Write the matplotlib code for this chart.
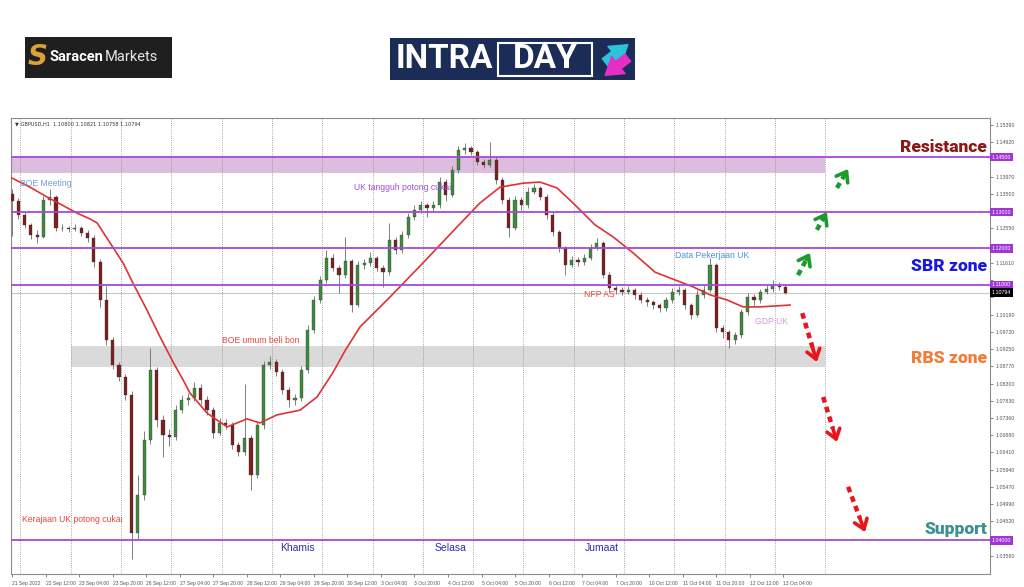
import matplotlib
matplotlib.use('Agg')
import matplotlib.pyplot as plt
import matplotlib.patches as mpatches
import matplotlib.transforms as mtransforms
import numpy as np

# --- data: GBPUSD, 3-hour candles (x = hours from 21 Sep 20:00)
first_open = 1.1350
closes = [1.1330, 1.1292, 1.1264, 1.1237, 1.1232, 1.1333, 1.1341, 1.1256, 1.1256, 1.1253,
          1.1256, 1.1242, 1.1229, 1.1163, 1.1059, 1.0949, 1.0881, 1.0848, 1.0799, 1.0420,
          1.0525, 1.0675, 1.0867, 1.0730, 1.0689, 1.0684, 1.0757, 1.0785, 1.0790, 1.0818,
          1.0785, 1.0757, 1.0695, 1.0722, 1.0716, 1.0662, 1.0642, 1.0681, 1.0579, 1.0716,
          1.0881, 1.0889, 1.0862, 1.0812, 1.0785, 1.0790, 1.0867, 1.0977, 1.1059, 1.1114,
          1.1174, 1.1147, 1.1127, 1.1165, 1.1045, 1.1155, 1.1160, 1.1174, 1.1147, 1.1136,
          1.1223, 1.1196, 1.1237, 1.1286, 1.1305, 1.1319, 1.1311, 1.1319, 1.1382, 1.1347,
          1.1415, 1.1470, 1.1475, 1.1464, 1.1437, 1.1429, 1.1442, 1.1388, 1.1333, 1.1256,
          1.1333, 1.1319, 1.1355, 1.1366, 1.1341, 1.1292, 1.1245, 1.1201, 1.1155, 1.1169,
          1.1163, 1.1174, 1.1201, 1.1215, 1.1127, 1.1092, 1.1086, 1.1081, 1.1086, 1.1073,
          1.1059, 1.1053, 1.1045, 1.1037, 1.1059, 1.1081, 1.1086, 1.1045, 1.1018, 1.1073,
          1.1086, 1.1155, 1.0982, 1.0971, 1.0949, 1.0963, 1.1026, 1.1067, 1.1059, 1.1081,
          1.1089, 1.1097, 1.1095, 1.1079]
highs = [1.1362, 1.1338, 1.1300, 1.1270, 1.1250, 1.1345, 1.1362, 1.1346, 1.1266, 1.1262,
         1.1268, 1.1262, 1.1250, 1.1236, 1.1170, 1.1098, 1.0958, 1.0890, 1.0856, 1.0810,
         1.0580, 1.0700, 1.0927, 1.0875, 1.0745, 1.0705, 1.0770, 1.0798, 1.0805, 1.0835,
         1.0828, 1.0795, 1.0765, 1.0735, 1.0732, 1.0725, 1.0670, 1.0830, 1.0690, 1.0728,
         1.0892, 1.0905, 1.0898, 1.0870, 1.0820, 1.0800, 1.0878, 1.0990, 1.1070, 1.1125,
         1.1196, 1.1185, 1.1155, 1.1232, 1.1172, 1.1165, 1.1172, 1.1190, 1.1180, 1.1155,
         1.1270, 1.1232, 1.1248, 1.1296, 1.1318, 1.1330, 1.1325, 1.1330, 1.1395, 1.1390,
         1.1425, 1.1482, 1.1489, 1.1482, 1.1470, 1.1445, 1.1492, 1.1450, 1.1395, 1.1340,
         1.1345, 1.1342, 1.1368, 1.1378, 1.1372, 1.1348, 1.1300, 1.1252, 1.1208, 1.1180,
         1.1178, 1.1185, 1.1212, 1.1230, 1.1220, 1.1135, 1.1100, 1.1095, 1.1098, 1.1092,
         1.1080, 1.1068, 1.1060, 1.1052, 1.1068, 1.1092, 1.1098, 1.1092, 1.1052, 1.1085,
         1.1100, 1.1174, 1.1160, 1.0990, 1.0978, 1.0972, 1.1035, 1.1078, 1.1075, 1.1090,
         1.1100, 1.1114, 1.1108, 1.1100]
lows = [1.1235, 1.1280, 1.1255, 1.1225, 1.1215, 1.1228, 1.1318, 1.1248, 1.1247, 1.1245,
        1.1248, 1.1233, 1.1218, 1.1150, 1.1040, 1.0935, 1.0870, 1.0838, 1.0785, 1.0350,
        1.0405, 1.0510, 1.0665, 1.0712, 1.0629, 1.0660, 1.0675, 1.0748, 1.0772, 1.0782,
        1.0775, 1.0745, 1.0680, 1.0688, 1.0705, 1.0650, 1.0630, 1.0635, 1.0538, 1.0570,
        1.0705, 1.0870, 1.0850, 1.0800, 1.0765, 1.0770, 1.0782, 1.0860, 1.0968, 1.1050,
        1.1105, 1.1138, 1.1078, 1.1118, 1.1026, 1.1040, 1.1145, 1.1152, 1.1138, 1.1095,
        1.1128, 1.1185, 1.1188, 1.1230, 1.1278, 1.1298, 1.1285, 1.1302, 1.1312, 1.1330,
        1.1340, 1.1408, 1.1460, 1.1455, 1.1428, 1.1420, 1.1422, 1.1378, 1.1322, 1.1232,
        1.1250, 1.1305, 1.1312, 1.1348, 1.1332, 1.1282, 1.1235, 1.1190, 1.1127, 1.1148,
        1.1152, 1.1155, 1.1168, 1.1195, 1.1118, 1.1082, 1.1075, 1.1072, 1.1074, 1.1062,
        1.1050, 1.1042, 1.1035, 1.1026, 1.1030, 1.1052, 1.1072, 1.1035, 1.1008, 1.1012,
        1.1065, 1.1080, 1.0972, 1.0955, 1.0927, 1.0938, 1.0955, 1.1018, 1.1045, 1.1052,
        1.1075, 1.1082, 1.1085, 1.1076]
bar_hours = 3

# moving average (red line), read at points
ma_hours = [0, 8.6, 16.7, 22.9, 31, 37.2, 40.6, 46.8, 53, 57.7, 64.4, 70.6, 76.8, 81.6, 84.9,
            93, 102.6, 112.1, 118.3, 126.4, 137.4, 145.5, 153.1, 158.9, 166, 180.3, 196,
            212.3, 223.3, 232.8, 243.8, 251.9, 260, 267.6, 278.1, 286.7, 296.3, 306.8,
            324.9, 333, 341.1, 348.8, 356.9, 371.2]
ma_values = [1.1393, 1.1368, 1.1341, 1.1322, 1.1297, 1.1281, 1.1270, 1.1215, 1.1160, 1.1105,
             1.1031, 1.0958, 1.0889, 1.0840, 1.0804, 1.0749, 1.0711, 1.0733, 1.0722, 1.0744,
             1.0757, 1.0793, 1.0860, 1.0920, 1.0985, 1.1067, 1.1160, 1.1259, 1.1325, 1.1368,
             1.1379, 1.1382, 1.1366, 1.1325, 1.1265, 1.1232, 1.1188, 1.1135, 1.1095, 1.1073,
             1.1059, 1.1040, 1.1040, 1.1045]

time_labels = ['21 Sep 2022', '22 Sep 12:00', '23 Sep 04:00', '23 Sep 20:00', '26 Sep 12:00',
               '27 Sep 04:00', '27 Sep 20:00', '28 Sep 12:00', '29 Sep 04:00', '29 Sep 20:00',
               '30 Sep 12:00', '3 Oct 04:00', '3 Oct 20:00', '4 Oct 12:00', '5 Oct 04:00',
               '5 Oct 20:00', '6 Oct 12:00', '7 Oct 04:00', '7 Oct 20:00', '10 Oct 12:00',
               '11 Oct 04:00', '11 Oct 20:00', '12 Oct 12:00', '13 Oct 04:00']
price_ticks = [1.15390, 1.14920, 1.14450, 1.13970, 1.13500, 1.13030, 1.12550, 1.12080,
               1.11610, 1.11140, 1.10660, 1.10190, 1.09720, 1.09250, 1.08770, 1.08300,
               1.07830, 1.07360, 1.06880, 1.06410, 1.05940, 1.05470, 1.04990, 1.04520,
               1.04050, 1.03580]
levels = [1.14500, 1.13000, 1.12000, 1.11000, 1.04000]
current_price = 1.10794

events = ['BOE Meeting', 'UK tangguh potong cukai', 'Data Pekerjaan UK', 'NFP AS', 'GDP UK',
          'BOE umum beli bon', 'Kerajaan UK potong cukai']
event_hours = [3.8, 163.2, 316.3, 272.9, 354.5, 100.2, 4.8]
event_prices = [1.1379, 1.1366, 1.1182, 1.1073, 1.1001, 1.0947, 1.0456]
event_colors = ['#6f9fd4', '#a04fd6', '#4a93db', '#e8463c', '#d596e3', '#e8463c', '#e8463c']

days = ['Khamis', 'Selasa', 'Jumaat']
day_hours = [127.9, 201.8, 273.4]
day_price = 1.0380

zones = ['Resistance', 'SBR zone', 'RBS zone', 'Support']
zone_prices = [1.1478, 1.1152, 1.0900, 1.0432]
zone_colors = ['#8e1717', '#1919e0', '#f27c36', '#3b9191']

up_arrows = [((375, 1.1127), (380.7, 1.1188)), ((384, 1.1251), (388.8, 1.1300)),
             ((393.6, 1.1366), (398.9, 1.1418))]
down_arrows = [((377, 1.1023), (384, 1.0889)), ((387, 1.0793), (393.6, 1.0670)),
               ((398.9, 1.0547), (407, 1.0423))]

W, H = 1024, 587
fig = plt.figure(figsize=(W / 100, H / 100), dpi=100)
fig.patch.set_facecolor('white')

def fx(x):
    return x / W

def fy(y):
    return 1 - y / H

ax = fig.add_axes([fx(11), fy(574), (990 - 11) / W, (574 - 118) / H])
ax.set_xlim(-0.5, 466.6)
ax.set_ylim(1.0308, 1.15576)

# zones
ax.fill_between([-0.5, 388], 1.1408, 1.1450, color='#dcbde0', lw=0, zorder=0.5)
ax.fill_between([28, 388], 1.0875, 1.0934, color='#dadada', lw=0, zorder=0.5)

# day separators
for h in range(4, 389, 24):
    ax.axvline(h, color='#8a8a8a', lw=0.6, ls=(0, (1, 1.6)), zorder=1)

ax.axhline(current_price, color='#c8c8c8', lw=0.8, zorder=1)

# candles
hours = np.arange(len(closes)) * bar_hours
opens = [first_open] + closes[:-1]
for h, o, c, hi, lo in zip(hours, opens, closes, highs, lows):
    col = '#3d8b3d' if c >= o else '#7d1f1f'
    ax.vlines(h, lo, hi, color='#6a6a6a', lw=0.6, zorder=3)
    ax.bar(h, max(abs(c - o), 0.00015), bottom=min(o, c), width=1.5,
           color=col, edgecolor='#3a3a3a', linewidth=0.25, zorder=3.5)

ax.plot(ma_hours, ma_values, color='#e03232', lw=1.2, zorder=4)

for lv in levels:
    ax.axhline(lv, color='#a64bd2', lw=1.3, zorder=4.5)

# event notes
for t, h, p, c in zip(events, event_hours, event_prices, event_colors):
    ax.text(h, p, t, color=c, fontsize=6.2, family='Liberation Sans', va='center', ha='left', zorder=6)
for t, h in zip(days, day_hours):
    ax.text(h, day_price, t, color='#2c2cb4', fontsize=7.5, family='Liberation Sans',
            va='center', ha='left', zorder=6)

# scenario arrows
for arrows, col in [(up_arrows, '#1c9a2c'), (down_arrows, '#e8151c')]:
    for (x0, y0), (x1, y1) in arrows:
        xm, ym = x0 + 0.7 * (x1 - x0), y0 + 0.7 * (y1 - y0)
        ax.plot([x0, xm], [y0, ym], color=col, lw=3.2, ls=(0, (1.3, 1.0)), solid_capstyle='butt', zorder=6)
        ax.annotate('', xy=(x1, y1), xytext=(xm, ym),
                    arrowprops=dict(arrowstyle='->,head_length=0.55,head_width=0.4', lw=2.6,
                                    color=col, shrinkA=0, shrinkB=0, mutation_scale=12), zorder=6)

blend = mtransforms.blended_transform_factory(ax.transAxes, ax.transData)
for z, p, c in zip(zones, zone_prices, zone_colors):
    ax.text(0.997, p, z, transform=blend, color=c, fontsize=12.5, fontweight='heavy',
            family='Roboto', ha='right', va='center', zorder=6)

# axes look
for s in ax.spines.values():
    s.set_color('#8c8c8c')
    s.set_linewidth(0.8)
ax.yaxis.tick_right()
ax.set_yticks(price_ticks)
# labels hidden behind the level / price boxes are left blank
covered = levels + [current_price]
ax.set_yticklabels(['' if min(abs(v - c) for c in covered) < 0.0015 else f'{v:.5f}' for v in price_ticks])
ax.tick_params(axis='y', labelsize=3.8, length=2, width=0.5, pad=2, colors='#555555')
ax.set_xticks(np.arange(len(time_labels)) * 16)
ax.set_xticklabels(time_labels, ha='left')
ax.tick_params(axis='x', labelsize=3.6, length=2, width=0.5, pad=3, colors='#555555')
for lab in ax.get_xticklabels() + ax.get_yticklabels():
    lab.set_family('Liberation Sans')

for lv in levels:
    ax.text(1.002, lv, f'{lv:.5f}', transform=blend, fontsize=3.8, color='white', family='Liberation Sans',
            va='center', ha='left', zorder=7, clip_on=False,
            bbox=dict(boxstyle='square,pad=0.3', fc='#a235d8', ec='none'))
ax.text(1.002, current_price, f'{current_price:.5f}', transform=blend, fontsize=3.8, color='white',
        family='Liberation Sans', va='center', ha='left', zorder=7, clip_on=False,
        bbox=dict(boxstyle='square,pad=0.3', fc='black', ec='none'))

ax.text(0.004, 0.993, '\u25bc GBPUSD,H1  1.10800 1.10821 1.10758 1.10794', transform=ax.transAxes,
        fontsize=3.6, color='#333333', va='top', ha='left', zorder=7)

# logos
renderer = fig.canvas.get_renderer()
fig.add_artist(mpatches.Rectangle((fx(25), fy(78)), 147 / W, 41 / H, transform=fig.transFigure,
                                  fc='#1f1f1f', ec='none'))
fig.text(fx(38), fy(57), 'S', color='#d9a236', fontsize=20, fontweight='bold', style='italic',
         ha='center', va='center')
t_sar = fig.text(fx(50), fy(57), 'Saracen', color='white', fontsize=10.5, fontweight='bold',
                 family='Roboto', ha='left', va='center')
bb = t_sar.get_window_extent(renderer)
fig.text(bb.x1 / W + 0.0005, fy(57), 'Markets', color='#e6e6e6', fontsize=10.5, family='Roboto',
         ha='left', va='center')

fig.add_artist(mpatches.Rectangle((fx(390), fy(80)), 245 / W, 42 / H, transform=fig.transFigure,
                                  fc='#1b2d56', ec='none'))
fig.text(fx(396), fy(59), 'INTRA', color='white', fontsize=24, fontweight='bold', family='Roboto',
         ha='left', va='center')
fig.add_artist(mpatches.Rectangle((fx(498), fy(76)), 94 / W, 33 / H, transform=fig.transFigure,
                                  fill=False, ec='white', lw=1.5))
fig.text(fx(545), fy(59), 'DAY', color='white', fontsize=24, fontweight='bold', family='Roboto',
         ha='center', va='center')
fig.add_artist(mpatches.FancyArrowPatch((fx(603), fy(64)), (fx(630), fy(43)), transform=fig.transFigure,
                                        arrowstyle='simple,head_width=1.3,head_length=1.0,tail_width=0.55',
                                        mutation_scale=12, color='#2cc3d8'))
fig.add_artist(mpatches.FancyArrowPatch((fx(630), fy(56)), (fx(603), fy(77)), transform=fig.transFigure,
                                        arrowstyle='simple,head_width=1.3,head_length=1.0,tail_width=0.55',
                                        mutation_scale=12, color='#e62ec6'))

fig.savefig('out.png', dpi=100)
